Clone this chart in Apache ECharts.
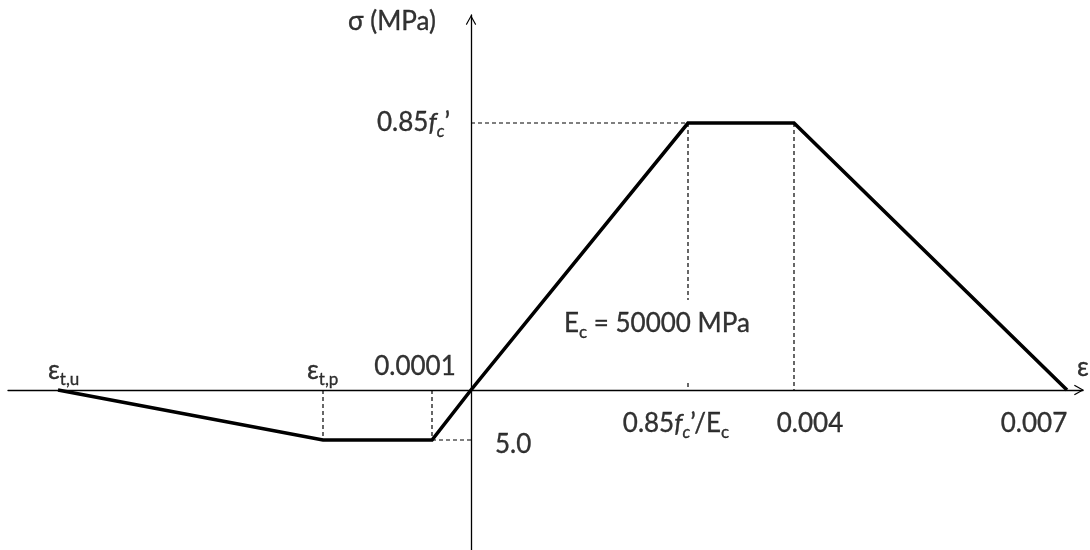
<!DOCTYPE html>
<html>
<head>
<meta charset="utf-8">
<script src="https://cdn.jsdelivr.net/npm/echarts@6/dist/echarts.min.js"></script>
<style>
html,body{margin:0;padding:0;background:#fff;}
#chart{width:1090px;height:550px;}
</style>
</head>
<body>
<div id="chart"></div>
<script>
// Schematic stress-strain diagram (not to scale): x = schematic strain position, y = stress (MPa, schematic)
const pointNames = ['εt,u', 'εt,p', '0.0001', 'origin', 'peak start', '0.004', '0.007'];
const strainPos = [-4.13, -1.48, -0.39, 0, 2.17, 3.23, 5.96];
const stress = [0, -5.0, -5.0, 0, 26.7, 26.7, 0];
const axisRangeX = [-4.63, 6.12];
const axisRangeY = [-16, 37.5];
const yAxisTitle = 'σ (MPa)';
const xAxisTitle = 'ε';
const modulusText = '50000 MPa';
const tensionText = '5.0';

// the E_c text box hides part of the dashed guide under the peak
const hiddenGuideSpan = [0.7, 9.0];

const FONT = 'Lato, "Noto Sans", "DejaVu Sans", sans-serif';
const ink = {color: '#000', textBorderColor: '#000', textBorderWidth: 0.35, fontFamily: FONT};
const rich = {
  n: Object.assign({fontSize: 26, lineHeight: 34}, ink),
  i: Object.assign({fontSize: 26, fontStyle: 'italic', lineHeight: 34}, ink),
  s: Object.assign({fontSize: 17, lineHeight: 17, verticalAlign: 'bottom'}, ink),
  si: Object.assign({fontSize: 17, fontStyle: 'italic', lineHeight: 17, verticalAlign: 'bottom'}, ink)
};

const curve = strainPos.map((x, k) => [x, stress[k]]);
const guides = [
  [[strainPos[1], 0], [strainPos[1], stress[1]]],
  [[strainPos[2], 0], [strainPos[2], stress[2]]],
  [[strainPos[2], stress[2]], [0, stress[2]]],
  [[0, stress[4]], [strainPos[4], stress[4]]],
  [[strainPos[4], stress[4]], [strainPos[4], hiddenGuideSpan[1]]],
  [[strainPos[4], hiddenGuideSpan[0]], [strainPos[4], 0]],
  [[strainPos[5], stress[5]], [strainPos[5], 0]]
];

const labels = [
  {at: [0, axisRangeY[1]], text: '{n|' + yAxisTitle + '}', offset: [-79, 7], align: 'center'},
  {at: [0, stress[4]], text: '{n|0.85}{i|f}{si|c}{n|’}', offset: [-21, 0], align: 'right'},
  {at: [strainPos[0], 0], text: '{n|ε}{s|t,u}', offset: [-10, -19], align: 'left'},
  {at: [strainPos[1], 0], text: '{n|ε}{s|t,p}', offset: [-16, -19], align: 'left'},
  {at: [strainPos[2], 0], text: '{n|' + pointNames[2] + '}', offset: [-17, -23], align: 'center'},
  {at: [0, stress[2]], text: '{n|' + tensionText + '}', offset: [24, 5], align: 'left'},
  {at: [axisRangeX[1], 0], text: '{n|' + xAxisTitle + '}', offset: [0, -22], align: 'center'},
  {at: [strainPos[4], 0], text: '{n|E}{s|c}{n| = ' + modulusText + '}', offset: [-124, -66], align: 'left'},
  {at: [strainPos[4], 0], text: '{n|0.85}{i|f}{si|c}{n|’/E}{s|c}', offset: [-12, 34], align: 'center'},
  {at: [strainPos[5], 0], text: '{n|' + pointNames[5] + '}', offset: [16, 34], align: 'center'},
  {at: [strainPos[6], 0], text: '{n|' + pointNames[6] + '}', offset: [-33, 34], align: 'center'}
];

const chevron = 'path://M0,90 L50,0 L100,90 L91,97 L50,22 L9,97 Z';

const series = [];
guides.forEach(g => series.push({
  type: 'line', data: g, symbol: 'none', silent: true, z: 3,
  lineStyle: {color: '#000', width: 1.2, type: [4, 3]}
}));
series.push({
  type: 'line', data: curve, symbol: 'none', silent: true, z: 5,
  lineStyle: {color: '#000', width: 3.6, join: 'miter', cap: 'butt'}
});
series.push({
  type: 'scatter', symbol: 'circle', symbolSize: 1, silent: true, z: 6,
  itemStyle: {color: 'rgba(0,0,0,0)'},
  data: labels.map(l => ({
    value: l.at,
    label: {show: true, position: 'inside', formatter: l.text, rich: rich,
      offset: l.offset, align: l.align, verticalAlign: 'middle'}
  }))
});

const chart = echarts.init(document.getElementById('chart'), null, {renderer: 'canvas'});
chart.setOption({
  animation: false,
  backgroundColor: '#fff',
  grid: {left: 8, right: 7, top: 15, bottom: 0, containLabel: false},
  xAxis: {
    type: 'value', min: axisRangeX[0], max: axisRangeX[1],
    axisLine: {show: true, onZero: true, symbol: ['none', chevron], symbolSize: [13, 10], symbolOffset: [0, -4],
      lineStyle: {color: '#000', width: 1.3}},
    axisTick: {show: false}, axisLabel: {show: false}, splitLine: {show: false}
  },
  yAxis: {
    type: 'value', min: axisRangeY[0], max: axisRangeY[1],
    axisLine: {show: true, onZero: true, symbol: ['none', chevron], symbolSize: [13, 10], symbolOffset: [0, -5],
      lineStyle: {color: '#000', width: 1.3}},
    axisTick: {show: false}, axisLabel: {show: false}, splitLine: {show: false}
  },
  series: series
});
</script>
</body>
</html>
